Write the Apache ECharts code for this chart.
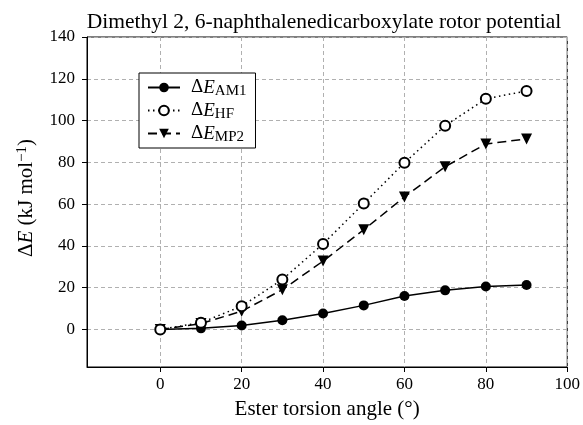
<!DOCTYPE html>
<html><head><meta charset="utf-8">
<script src="https://cdn.jsdelivr.net/npm/echarts@6/dist/echarts.min.js"></script>
<style>html,body{margin:0;padding:0;background:#fff}#c{width:583px;height:425px}</style>
</head><body><div id="c"></div>
<script>
var angles = [0, 10, 20, 30, 40, 50, 60, 70, 80, 90];
var am1 = [0, 0.5, 1.9, 4.4, 7.6, 11.5, 16.0, 18.7, 20.5, 21.3];
var hf = [0, 3.2, 11.1, 23.9, 40.9, 60.3, 79.8, 97.5, 110.4, 114.2];
var mp2 = [0, 2.8, 8.7, 19.0, 32.7, 47.7, 63.4, 77.9, 88.8, 91.2];
var xTicks = [0, 20, 40, 60, 80, 100];
var yTicks = [0, 20, 40, 60, 80, 100, 120, 140];
var names = ['AM1', 'HF', 'MP2'];

function pairs(v){ return angles.map(function(a,i){ return [a, v[i]]; }); }
var serif = '"Liberation Serif","DejaVu Serif",serif';
var chart = echarts.init(document.getElementById('c'));
var gridLine = {show: true, lineStyle: {color: '#b0b0b0', type: [4, 3], width: 1}};
chart.setOption({
  animation: false,
  backgroundColor: '#fff',
  title: {text: 'Dimethyl 2, 6-naphthalenedicarboxylate rotor potential', left: 319, textAlign: 'center', top: 6,
    textStyle: {fontFamily: serif, fontSize: 21.5, fontWeight: 'normal', color: '#000'}},
  grid: {left: 87, right: 14, top: 37, bottom: 56, show: true, borderColor: '#000', borderWidth: 1},
  legend: {
    left: 139, top: 73, orient: 'vertical', itemWidth: 32, itemHeight: 12, itemGap: 0,
    borderColor: '#000', borderWidth: 1, padding: [3, 9, 3, 8], backgroundColor: '#fff',
    data: names,
    formatter: function(n){ return '{d|Δ}{e|E}{s|' + n + '}'; },
    textStyle: {fontFamily: serif, color: '#000', fontSize: 19,
      rich: {
        d: {fontFamily: serif, fontSize: 19, color: '#000', lineHeight: 18, padding: [0, 0, 0, 6]},
        e: {fontFamily: serif, fontSize: 19, fontStyle: 'italic', color: '#000', lineHeight: 18},
        s: {fontFamily: serif, fontSize: 15, color: '#000', lineHeight: 10, padding: [8, 0, 0, 0]}
      }}
  },
  xAxis: {
    type: 'value', min: -18, max: 100,
    name: 'Ester torsion angle (°)', nameLocation: 'middle', nameGap: 32,
    nameTextStyle: {fontFamily: serif, fontSize: 21, color: '#000'},
    axisLine: {onZero: false, lineStyle: {color: '#000', width: 1}},
    axisTick: {show: true, length: 5, customValues: xTicks, lineStyle: {color: '#000'}},
    axisLabel: {customValues: xTicks, fontFamily: serif, fontSize: 17, color: '#000', margin: 9},
    splitLine: gridLine
  },
  yAxis: {
    type: 'value', min: -18, max: 140,
    name: '{d|Δ}{e|E}{n| (kJ mol}{p|−1}{n|)}', nameLocation: 'middle', nameGap: 49, nameRotate: 90,
    nameTextStyle: {fontFamily: serif, fontSize: 21, color: '#000', padding: [0, 0, 0, 8],
      rich: {
        d: {fontFamily: serif, fontSize: 21, color: '#000', lineHeight: 22},
        e: {fontFamily: serif, fontSize: 21, fontStyle: 'italic', color: '#000', lineHeight: 22},
        n: {fontFamily: serif, fontSize: 21, color: '#000', lineHeight: 22},
        p: {fontFamily: serif, fontSize: 15, color: '#000', lineHeight: 22, padding: [0, 0, 9, 0]}
      }},
    axisLine: {onZero: false, lineStyle: {color: '#000', width: 1}},
    axisTick: {show: true, length: 5, customValues: yTicks, lineStyle: {color: '#000'}},
    axisLabel: {customValues: yTicks, fontFamily: serif, fontSize: 17, color: '#000', margin: 12},
    splitLine: gridLine
  },
  series: [
    {name: 'AM1', type: 'line', data: pairs(am1), symbol: 'circle', symbolSize: 10,
      itemStyle: {color: '#000'}, lineStyle: {color: '#000', width: 1.5, type: 'solid'}, z: 3},
    {name: 'HF', type: 'line', data: pairs(hf), symbol: 'emptyCircle', symbolSize: 10,
      itemStyle: {color: '#000', borderWidth: 1.2}, lineStyle: {color: '#000', width: 1.5, type: [1.5, 3.5]}, z: 4},
    {name: 'MP2', type: 'line', data: pairs(mp2), symbol: 'triangle', symbolRotate: 180, symbolSize: 11,
      itemStyle: {color: '#000'}, lineStyle: {color: '#000', width: 1.5, type: [9, 5]}, z: 3}
  ]
});
</script></body></html>
